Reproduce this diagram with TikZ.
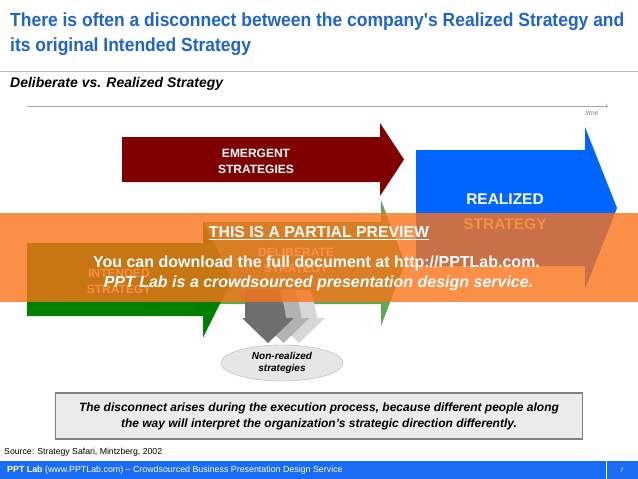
\documentclass[tikz,border=0pt]{standalone}
\usepackage{fontspec}
\setmainfont{Liberation Sans}
\newfontfamily\narrowfont[FakeStretch=0.92]{Liberation Sans}
\usetikzlibrary{shapes.geometric}

\definecolor{titleblue}{RGB}{31,100,204}
\definecolor{emergentred}{RGB}{128,0,0}
\definecolor{realizedblue}{RGB}{0,102,255}
\definecolor{intendedgreen}{RGB}{0,128,0}
\definecolor{deliberategreen}{RGB}{92,170,88}
\definecolor{chevdark}{RGB}{110,110,110}
\definecolor{chevmid}{RGB}{178,178,178}
\definecolor{chevlight}{RGB}{215,215,215}
\definecolor{ellfill}{RGB}{230,230,230}
\definecolor{boxfill}{RGB}{235,235,235}
\definecolor{footblue}{RGB}{26,108,245}
\definecolor{previeworange}{RGB}{250,115,25}

% block arrow: fill, x start, x head, x tip, y centre, body half, head half
\newcommand{\blockarr}[7]{\fill[#1] (#2,#5-#6) -- (#3,#5-#6) -- (#3,#5-#7) -- (#4,#5) -- (#3,#5+#7) -- (#3,#5+#6) -- (#2,#5+#6) -- cycle;}
% down chevron: left x, fill
\newcommand{\chevron}[2]{\fill[#2] (#1+3,290) -- (#1+37,290) .. controls (#1+41,300) and (#1+43,310) .. (#1+44,318) -- (#1+52,318) -- (#1+26,343) -- (#1,318) -- (#1+3,318) -- cycle;}

\begin{document}
\begin{tikzpicture}[x=1pt,y=-1pt]

\tikzset{armtext/.style={text=white,font=\bfseries\fontsize{12}{16}\selectfont,align=center,inner sep=0pt},}
\tikzset{bigarmtext/.style={text=white,font=\bfseries\fontsize{15.5}{25}\selectfont,align=center,inner sep=0pt},}
\tikzset{previewtext/.style={text=white,inner sep=0pt},}
\tikzset{plain/.style={inner sep=0pt,anchor=west},}

\useasboundingbox (0,0) rectangle (638,479);

%TITLE
\draw (10,13) node[inner sep=0pt,anchor=north west,align=left,text=titleblue,font=\narrowfont\bfseries\fontsize{19}{25}\selectfont] (title) {There is often a disconnect between the company's Realized Strategy and\\its original Intended Strategy};
\draw[gray!50,line width=0.8pt] (0,71) -- (638,71);
\draw (10,84) node[plain,font=\bfseries\itshape\fontsize{14}{16}\selectfont] (subtitle) {Deliberate vs. Realized Strategy};

%TIME AXIS
\coordinate (tstart) at (27,106);
\coordinate (tend) at (608,106);
\draw[->,gray!70,line width=0.7pt] (tstart) -- (tend);
\draw (592,113) node[inner sep=0pt,text=gray,font=\itshape\fontsize{7}{8}\selectfont] (time) {time};

%ARROWS
\blockarr{emergentred}{122}{380}{404}{159.5}{22.5}{36.5}
\blockarr{realizedblue}{416}{585}{617}{208}{58}{81}
\blockarr{deliberategreen}{203}{381}{405}{263}{41}{63}
\blockarr{intendedgreen}{27}{203}{232}{279.5}{36.5}{58}

\draw (256,161) node[armtext] (emergent) {EMERGENT\\STRATEGIES};
\draw (505,212) node[bigarmtext] (realized) {REALIZED\\STRATEGY};
\draw (296,260) node[armtext] (deliberate) {DELIBERATE\\STRATEGY};
\draw (119,281) node[armtext] (intended) {INTENDED\\STRATEGY};

%CHEVRONS
\chevron{273}{chevlight}
\chevron{257.5}{chevmid}
\chevron{242}{chevdark}

\draw (282,363) node[ellipse,draw=gray!60,fill=ellfill,minimum width=122pt,minimum height=36pt,inner sep=0pt,align=center,font=\bfseries\itshape\fontsize{10}{12}\selectfont] (nonreal) {Non-realized\\strategies};

%PREVIEW BAND
\fill[previeworange,opacity=0.8] (0,213) rectangle (638,302);
\draw (319,233) node[previewtext,font=\bfseries\fontsize{15.8}{18}\selectfont] (preview) {\underline{THIS IS A PARTIAL PREVIEW}};
\draw (316.5,263) node[previewtext,font=\bfseries\fontsize{16}{18}\selectfont] (download) {You can download the full document at http://PPTLab.com.};
\draw (318.5,283) node[previewtext,font=\bfseries\itshape\fontsize{16}{18}\selectfont] (crowd) {PPT Lab is a crowdsourced presentation design service.};

%NOTE BOX
\draw (319,416) node[draw=gray,line width=1.5pt,fill=boxfill,minimum width=527pt,minimum height=46pt,inner sep=0pt,align=center,font=\bfseries\itshape\fontsize{12}{16}\selectfont] (note) {The disconnect arises during the execution process, because different people along\\the way will interpret the organization's strategic direction differently.};

%FOOTER
\draw (4,452) node[plain,font=\fontsize{8.7}{10}\selectfont] (source) {Source: Strategy Safari, Mintzberg, 2002};
\fill[footblue] (0,461) rectangle (638,479);
\draw[white,line width=1pt] (606,461) -- (606,479);
\draw (7,470) node[plain,text=white,font=\fontsize{8.85}{10}\selectfont] (footer) {\textbf{PPT Lab} (www.PPTLab.com) -- Crowdsourced Business Presentation Design Service};
\draw (622,470) node[inner sep=0pt,text=white,font=\fontsize{6}{7}\selectfont] (pageno) {7};

\end{tikzpicture}
\end{document}
